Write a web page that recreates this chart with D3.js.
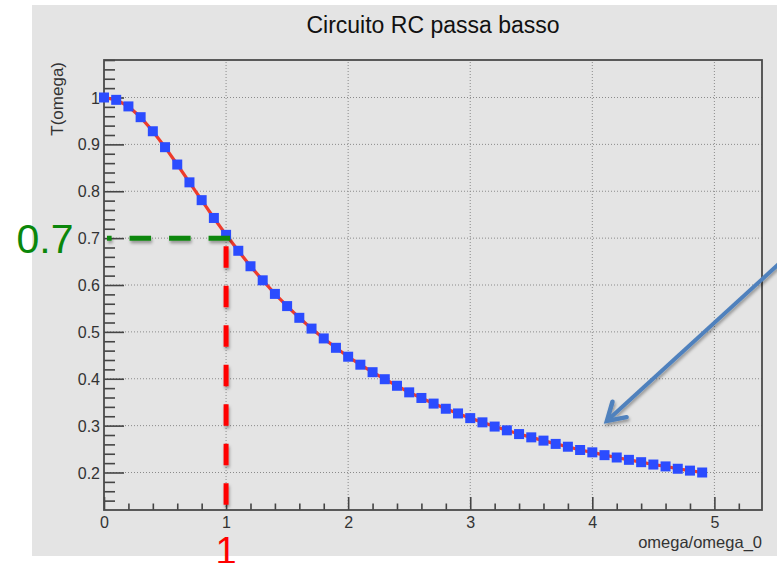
<!DOCTYPE html>
<html><head><meta charset="utf-8">
<script src="https://cdn.jsdelivr.net/npm/d3@7"></script>
<style>body{margin:0;background:#fff;}svg{display:block;font-family:"Liberation Sans",Arial,sans-serif;}</style>
</head><body>
<svg id="c" width="777" height="563"></svg>
<script>
const title = "Circuito RC passa basso";
const xTitle = "omega/omega_0";
const yTitle = "T(omega)";
const xValues = [0.0,0.1,0.2,0.3,0.4,0.5,0.6,0.7,0.8,0.9,1.0,1.1,1.2,1.3,1.4,1.5,1.6,1.7,1.8,1.9,2.0,2.1,2.2,2.3,2.4,2.5,2.6,2.7,2.8,2.9,3.0,3.1,3.2,3.3,3.4,3.5,3.6,3.7,3.8,3.9,4.0,4.1,4.2,4.3,4.4,4.5,4.6,4.7,4.8,4.9];
const tValues = [1.000,0.995,0.981,0.958,0.928,0.894,0.857,0.819,0.781,0.743,0.707,0.673,0.640,0.610,0.581,0.555,0.530,0.507,0.486,0.466,0.447,0.430,0.414,0.399,0.385,0.371,0.359,0.347,0.336,0.326,0.316,0.307,0.298,0.290,0.282,0.275,0.268,0.261,0.255,0.248,0.243,0.237,0.232,0.227,0.222,0.217,0.213,0.208,0.204,0.200];
const xTicks = [0,1,2,3,4,5];
const xMinorTicks = [0.2,0.4,0.6,0.8,1.2,1.4,1.6,1.8,2.2,2.4,2.6,2.8,3.2,3.4,3.6,3.8,4.2,4.4,4.6,4.8,5.2];
const yTicks = [0.2,0.3,0.4,0.5,0.6,0.7,0.8,0.9,1.0];
const yMinorTicks = [0.14,0.16,0.18,0.22,0.24,0.26,0.28,0.32,0.34,0.36,0.38,0.42,0.44,0.46,0.48,0.52,0.54,0.56,0.58,0.62,0.64,0.66,0.68,0.72,0.74,0.76,0.78,0.82,0.84,0.86,0.88,0.92,0.94,0.96,0.98,1.02,1.04,1.06,1.08];
const xDomain = [0, 5.39];
const yDomain = [0.12, 1.08];
const markY = 0.7, markX = 1;
const markYLabel = "0.7", markXLabel = "1";

const svg = d3.select("#c");
const L = 104, R = 762, T = 60, B = 510;
const x = d3.scaleLinear().domain(xDomain).range([L, R]);
const y = d3.scaleLinear().domain(yDomain).range([B, T]);

const defs = svg.append("defs");
const f = defs.append("filter").attr("id","sh").attr("filterUnits","userSpaceOnUse")
  .attr("x",0).attr("y",0).attr("width",777).attr("height",563);
f.append("feDropShadow").attr("dx",1).attr("dy",2.5).attr("stdDeviation",1.6).attr("flood-color","#000").attr("flood-opacity",0.35);

// panel
svg.append("rect").attr("x",32).attr("y",5).attr("width",745).attr("height",551).attr("fill","#e4e4e4");

// grid
const g = svg.append("g");
g.selectAll(".gx").data(xTicks.filter(d=>d>0)).join("line")
  .attr("x1",d=>x(d)).attr("x2",d=>x(d)).attr("y1",B).attr("y2",T)
  .attr("stroke","#8a8a8a").attr("stroke-width",1).attr("stroke-dasharray","1,2");
g.selectAll(".gy").data(yTicks).join("line")
  .attr("x1",L).attr("x2",R).attr("y1",d=>y(d)).attr("y2",d=>y(d))
  .attr("stroke","#8a8a8a").attr("stroke-width",1).attr("stroke-dasharray","1,2");

// axes
const fmtY = d => d3.format("~g")(d);
const ax = svg.append("g").attr("transform",`translate(0,${B})`)
  .call(d3.axisBottom(x).tickValues(xTicks).tickSizeInner(-13).tickSizeOuter(0).tickPadding(7).tickFormat(d3.format("d")));
svg.append("g").attr("transform",`translate(0,${B})`)
  .call(d3.axisBottom(x).tickValues(xMinorTicks).tickSizeInner(-6.5).tickSizeOuter(0).tickFormat(""));
const ay = svg.append("g").attr("transform",`translate(${L},0)`)
  .call(d3.axisLeft(y).tickValues(yTicks).tickSizeInner(-20).tickSizeOuter(0).tickPadding(4).tickFormat(fmtY));
svg.append("g").attr("transform",`translate(${L},0)`)
  .call(d3.axisLeft(y).tickValues(yMinorTicks).tickSizeInner(-11).tickSizeOuter(0).tickFormat(""));
svg.selectAll(".domain").attr("stroke","none");
svg.selectAll(".tick line").attr("stroke","#444").attr("stroke-width",1.6);
svg.selectAll(".tick text").attr("fill","#333").attr("font-size","16px").attr("font-family","'Liberation Sans',Arial,sans-serif");
ax.selectAll(".tick text").attr("dy","0.71em");
ay.selectAll(".tick text").attr("dy","0.35em");

// frame
svg.append("rect").attr("x",L).attr("y",T).attr("width",R-L).attr("height",B-T)
  .attr("fill","none").attr("stroke","#4a4a4a").attr("stroke-width",1.8);

// curve
const pts = xValues.map((v,i)=>[v,tValues[i]]);
svg.append("path").datum(pts)
  .attr("d", d3.line().x(d=>x(d[0])).y(d=>y(d[1])))
  .attr("fill","none").attr("stroke","#ee3b2b").attr("stroke-width",3.2);
svg.selectAll(".pt").data(pts).join("rect")
  .attr("x",d=>x(d[0])-5).attr("y",d=>y(d[1])-5).attr("width",10).attr("height",10)
  .attr("fill","#2b4cff");

// titles
svg.append("text").attr("x",433).attr("y",33).attr("text-anchor","middle")
  .attr("font-size","23px").attr("fill","#111").text(title);
svg.append("text").attr("transform",`translate(63,${T+2}) rotate(-90)`).attr("text-anchor","end")
  .attr("font-size","17px").attr("fill","#333").text(yTitle);
svg.append("text").attr("x",R).attr("y",548).attr("text-anchor","end")
  .attr("font-size","16.5px").attr("fill","#333").text(xTitle);

// annotations
const ann = svg.append("g").attr("filter","url(#sh)");
ann.append("line").attr("x1",x(markX)+4).attr("x2",107).attr("y1",y(markY)).attr("y2",y(markY))
  .attr("stroke","#0b870b").attr("stroke-width",5).attr("stroke-dasharray","21.5,18");
ann.append("line").attr("x1",x(markX)).attr("x2",x(markX)).attr("y1",y(markY)+8).attr("y2",506)
  .attr("stroke","#ff0000").attr("stroke-width",5).attr("stroke-dasharray","21.5,18");
svg.append("text").attr("x",45).attr("y",253).attr("text-anchor","middle")
  .attr("font-size","41px").attr("fill","#0b870b").text(markYLabel);
svg.append("text").attr("x",x(markX)).attr("y",564).attr("text-anchor","middle")
  .attr("font-size","38px").attr("fill","#ff0000").text(markXLabel);

// arrow
const tip = [x(4.12), y(0.31)];
const tail = [x(5.57), y(0.655)];
const ang = Math.atan2(tail[1]-tip[1], tail[0]-tip[0]);
const wl = 20, wa = 0.55;
const w1 = [tip[0]+wl*Math.cos(ang+wa), tip[1]+wl*Math.sin(ang+wa)];
const w2 = [tip[0]+wl*Math.cos(ang-wa), tip[1]+wl*Math.sin(ang-wa)];
const ag = svg.append("g").attr("filter","url(#sh)");
ag.append("line").attr("x1",tail[0]).attr("y1",tail[1]).attr("x2",tip[0]+2*Math.cos(ang)).attr("y2",tip[1]+2*Math.sin(ang))
  .attr("stroke","#4f81bd").attr("stroke-width",4);
ag.append("path").attr("d",`M${w1[0]},${w1[1]}L${tip[0]},${tip[1]}L${w2[0]},${w2[1]}`)
  .attr("fill","none").attr("stroke","#4f81bd").attr("stroke-width",4.5).attr("stroke-linecap","round").attr("stroke-linejoin","miter");
</script>
</body></html>
